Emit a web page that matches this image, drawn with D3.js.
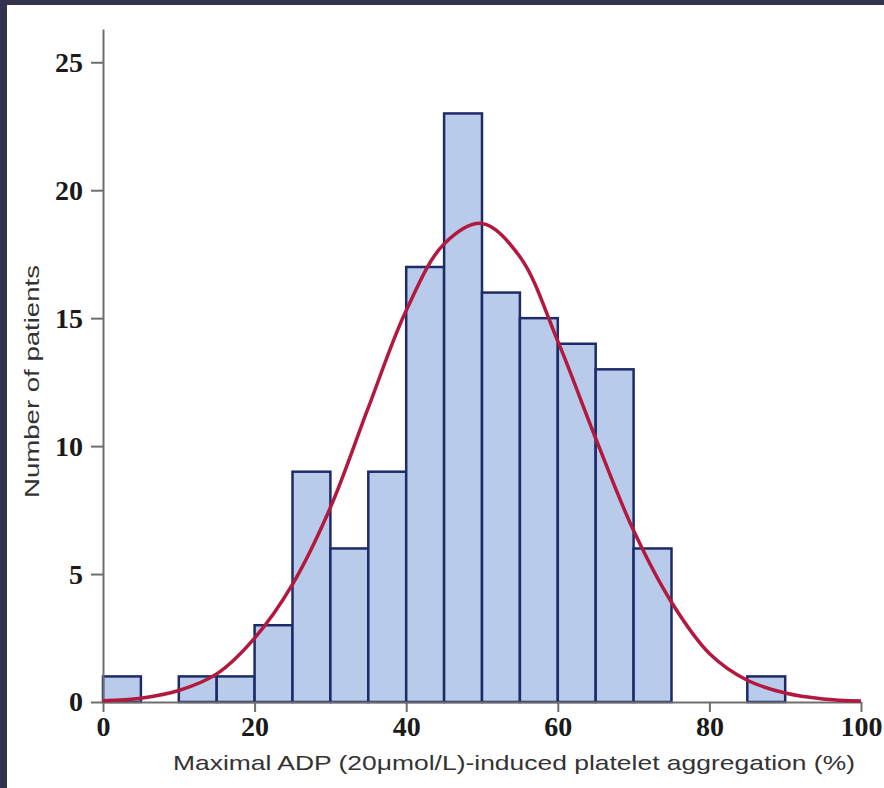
<!DOCTYPE html>
<html>
<head>
<meta charset="utf-8">
<script src="https://cdn.jsdelivr.net/npm/d3@7"></script>
<style>
    body { margin: 0; background: #ffffff; }
    svg { display: block; }
</style>
</head>
<body>
<div id="my_dataviz"></div>
<script>
// histogram bins (5% wide) and patient counts
let binStart = [0, 5, 10, 15, 20, 25, 30, 35, 40, 45, 50, 55, 60, 65, 70, 75, 80, 85, 90, 95]
let counts   = [1, 0, 1, 1, 3, 9, 6, 9, 17, 23, 16, 15, 14, 13, 6, 0, 0, 1, 0, 0]

// fitted curve
let curveX = [0, 5, 10, 15, 20, 25, 30, 35, 40, 45, 50, 55, 60, 65, 70, 75, 80, 85, 90, 95, 100]
let curveY = [0.05, 0.15, 0.45, 1.1, 2.5, 4.6, 7.6, 11.5, 15.3, 17.9, 18.7, 17.4, 14.1, 10.3, 6.7, 3.9, 1.9, 0.85, 0.35, 0.12, 0.04]

let xTicks = [0, 20, 40, 60, 80, 100]
let yTicks = [0, 5, 10, 15, 20, 25]

let binWidth = 5
let yTop = 26.3

var width = 884, height = 788

var svg = d3.select("#my_dataviz")
        .append("svg")
            .attr("width", width)
            .attr("height", height)

// dark frame at top and left
svg.append("rect")
    .attr("x", 0).attr("y", 0)
    .attr("width", width).attr("height", 5)
    .attr("fill", "#33334f")
svg.append("rect")
    .attr("x", 0).attr("y", 0)
    .attr("width", 7).attr("height", height)
    .attr("fill", "#33334f")

let xScale = d3.scaleLinear().domain([0, 100]).range([103, 861])
let yScale = d3.scaleLinear().domain([0, yTop]).range([702, 29])

let bins = binStart.map((b, i) => ({x0: b, x1: b + binWidth, n: counts[i]}))
    .filter(d => d.n > 0)

svg.append("g")
    .attr("id", "body")
    .selectAll("rect")
    .data(bins)
    .enter()
    .append("rect")
        .attr("x", d => xScale(d.x0))
        .attr("y", d => yScale(d.n))
        .attr("width", d => xScale(d.x1) - xScale(d.x0))
        .attr("height", d => yScale(0) - yScale(d.n))
        .attr("fill", "#b9cbea")
        .attr("stroke", "#1f2b68")
        .attr("stroke-width", 2.5)

// axes
let xAxis = svg.append("g")
    .attr("id", "xAxis")
    .attr("transform", "translate(0," + yScale(0) + ")")
    .call(d3.axisBottom(xScale).tickValues(xTicks).tickSize(10).tickSizeOuter(0))

let yAxis = svg.append("g")
    .attr("id", "yAxis")
    .attr("transform", "translate(" + xScale(0) + ",0)")
    .call(d3.axisLeft(yScale).tickValues(yTicks).tickSize(12).tickSizeOuter(0))

svg.selectAll("#xAxis path, #yAxis path, #xAxis line, #yAxis line")
    .attr("stroke", "#6e6e6e")
    .attr("stroke-width", 2)

xAxis.selectAll("text")
    .attr("font-family", "Liberation Serif, Times New Roman, serif")
    .attr("font-weight", "bold")
    .attr("font-size", 28)
    .attr("fill", "#1a1a1a")
    .attr("y", 14)

yAxis.selectAll("text")
    .attr("font-family", "Liberation Serif, Times New Roman, serif")
    .attr("font-weight", "bold")
    .attr("font-size", 28)
    .attr("fill", "#1a1a1a")
    .attr("x", -20)

// fitted normal curve
let line = d3.line()
    .x(d => xScale(d[0]))
    .y(d => yScale(d[1]))
    .curve(d3.curveCatmullRom)

svg.append("path")
    .datum(curveX.map((x, i) => [x, curveY[i]]))
    .attr("d", line)
    .attr("fill", "none")
    .attr("stroke", "#b3193e")
    .attr("stroke-width", 3.5)

// titles
svg.append("text")
    .attr("x", 173)
    .attr("y", 770)
    .attr("font-family", "Liberation Sans, Arial, sans-serif")
    .attr("font-size", 21)
    .attr("fill", "#333333")
    .attr("textLength", 682)
    .attr("lengthAdjust", "spacingAndGlyphs")
    .text("Maximal ADP (20\u03bcmol/L)-induced platelet aggregation (%)")

svg.append("text")
    .attr("transform", "translate(39,498) rotate(-90)")
    .attr("font-family", "Liberation Sans, Arial, sans-serif")
    .attr("font-size", 21)
    .attr("fill", "#333333")
    .attr("textLength", 233)
    .attr("lengthAdjust", "spacingAndGlyphs")
    .text("Number of patients")
</script>
</body>
</html>
